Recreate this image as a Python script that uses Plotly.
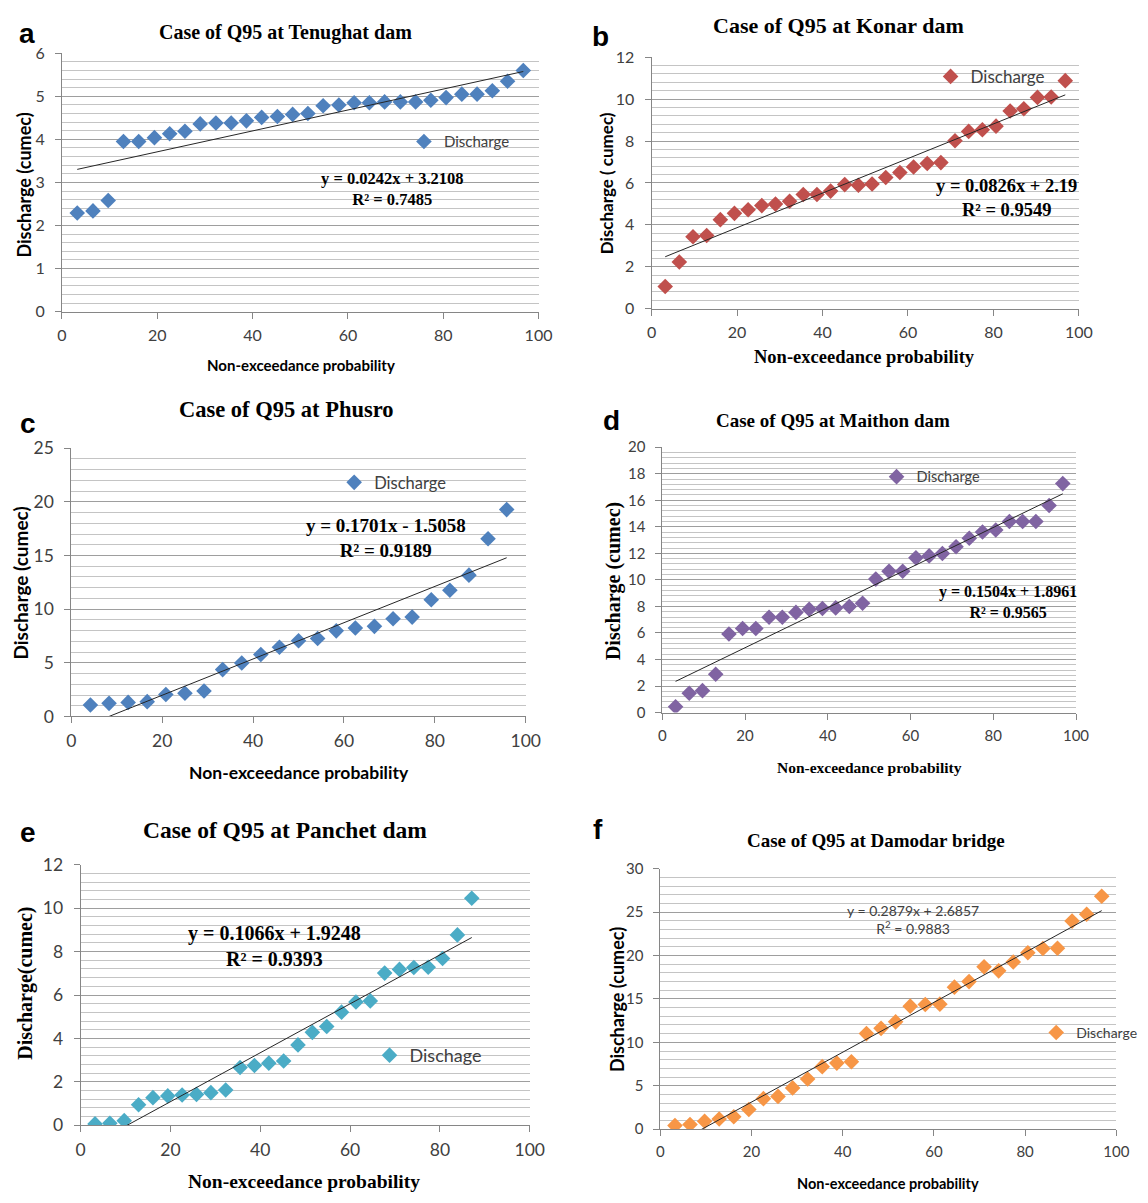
import numpy as np
import plotly.graph_objects as go

W, H = 1148, 1203
SANS = "Lato"
SERIF = "Liberation Serif"
LETTER = "Liberation Sans"

# ---------------- data ----------------
prob_30 = [3.2, 6.5, 9.7, 12.9, 16.1, 19.4, 22.6, 25.8, 29.0, 32.3,
           35.5, 38.7, 41.9, 45.2, 48.4, 51.6, 54.8, 58.1, 61.3, 64.5,
           67.7, 71.0, 74.2, 77.4, 80.6, 83.9, 87.1, 90.3, 93.5, 96.8]
prob_23 = [4.2, 8.3, 12.5, 16.7, 20.8, 25.0, 29.2, 33.3, 37.5, 41.7,
           45.8, 50.0, 54.2, 58.3, 62.5, 66.7, 70.8, 75.0, 79.2, 83.3,
           87.5, 91.7, 95.8]
prob_27 = [3.2, 6.5, 9.7, 12.9, 16.1, 19.4, 22.6, 25.8, 29.0, 32.3,
           35.5, 38.7, 41.9, 45.2, 48.4, 51.6, 54.8, 58.1, 61.3, 64.5,
           67.7, 71.0, 74.2, 77.4, 80.6, 83.9, 87.1]

q_tenughat = [2.29, 2.34, 2.58, 3.95, 3.95, 4.04, 4.13, 4.19, 4.36, 4.38,
              4.38, 4.43, 4.51, 4.53, 4.58, 4.60, 4.78, 4.80, 4.85, 4.85,
              4.87, 4.87, 4.87, 4.91, 4.97, 5.05, 5.05, 5.13, 5.35, 5.60]
q_konar = [1.06, 2.23, 3.43, 3.49, 4.25, 4.55, 4.72, 4.92, 4.99, 5.13,
           5.45, 5.45, 5.61, 5.92, 5.89, 5.95, 6.26, 6.50, 6.76, 6.93,
           6.97, 8.01, 8.46, 8.54, 8.71, 9.43, 9.54, 10.08, 10.10, 10.88]
q_phusro = [1.07, 1.22, 1.31, 1.38, 2.05, 2.17, 2.38, 4.37, 4.98, 5.78,
            6.45, 7.06, 7.27, 7.98, 8.25, 8.40, 9.11, 9.26, 10.88, 11.77,
            13.17, 16.56, 19.28]
q_maithon = [0.44, 1.45, 1.65, 2.89, 5.92, 6.34, 6.34, 7.18, 7.18, 7.55,
             7.79, 7.84, 7.89, 7.99, 8.24, 10.06, 10.65, 10.65, 11.66, 11.81,
             11.99, 12.50, 13.14, 13.61, 13.76, 14.40, 14.40, 14.40, 15.61, 17.26]
q_panchet = [0.06, 0.09, 0.21, 0.94, 1.27, 1.35, 1.39, 1.42, 1.50, 1.62,
             2.66, 2.75, 2.86, 2.96, 3.70, 4.28, 4.55, 5.21, 5.68, 5.73,
             7.01, 7.18, 7.27, 7.28, 7.68, 8.77, 10.46]
q_damodar = [0.41, 0.53, 0.90, 1.17, 1.43, 2.26, 3.51, 3.77, 4.75, 5.77,
             7.20, 7.61, 7.76, 11.01, 11.61, 12.36, 14.17, 14.36, 14.40, 16.36,
             17.00, 18.70, 18.24, 19.26, 20.32, 20.81, 20.84, 23.97, 24.76, 26.84]

titles = ["Case of Q95 at Tenughat dam", "Case of Q95 at Konar dam",
          "Case of Q95 at Phusro", "Case of Q95 at Maithon dam",
          "Case of Q95 at Panchet dam", "Case of Q95 at Damodar bridge"]
letters = ["a", "b", "c", "d", "e", "f"]
y_titles = ["Discharge (cumec)", "Discharge ( cumec)", "Discharge (cumec)",
            "Discharge (cumec)", "Discharge(cumec)", "Discharge (cumec)"]
x_title = "Non-exceedance probability"
legend_names = ["Discharge", "Discharge", "Discharge", "Discharge", "Dischage", "Discharge"]
equations = ["y = 0.0242x + 3.2108<br>R² = 0.7485",
             "y = 0.0826x + 2.19<br>R² = 0.9549",
             "y = 0.1701x - 1.5058<br>R² = 0.9189",
             "y = 0.1504x + 1.8961<br>R² = 0.9565",
             "y = 0.1066x + 1.9248<br>R² = 0.9393",
             "y = 0.2879x + 2.6857<br>R<sup>2</sup> = 0.9883"]
y_max = [6, 12, 25, 20, 12, 30]
y_major = [1, 2, 5, 2, 2, 5]
y_minor = [0.2, 0.4, 1, 0.4, 0.4, 1]
x_ticks = [0, 20, 40, 60, 80, 100]

series_x = [prob_30, prob_30, prob_23, prob_30, prob_27, prob_30]
series_y = [q_tenughat, q_konar, q_phusro, q_maithon, q_panchet, q_damodar]
colors = ["#4F81BD", "#C0504D", "#4F81BD", "#8064A2", "#4BACC6", "#F79646"]

# ---------------- layout specs (pixels) ----------------
P = [
    dict(dom=(58, 543, 43, 306), title=(285, 22, SERIF, 20), letter=(22.5, 23),
         ytit=(19, 177, SANS, 18), xtit=(301, 360, SANS, 15),
         eq=(394, 181, SERIF, 16.5, True), leg=(430, 133, 15), tick=16),
    dict(dom=(658, 1093, 47, 303), title=(848, 15, SERIF, 22), letter=(606, 26),
         ytit=(613, 175, SANS, 17), xtit=(875, 352, SERIF, 18.5),
         eq=(1019, 190, SERIF, 18.5, True), leg=(966, 67, 17), tick=16),
    dict(dom=(67.5, 530, 445, 718), title=(286, 406, SERIF, 22.5), letter=(23.6, 420),
         ytit=(16, 582, SANS, 19), xtit=(299, 775, SANS, 17.5),
         eq=(388, 536, SERIF, 19, True), leg=(359, 480, 16.5), tick=17.5),
    dict(dom=(669, 1090, 444, 714), title=(843, 417, SERIF, 19), letter=(617, 417),
         ytit=(620, 580, SERIF, 20), xtit=(880, 770, SERIF, 15.5),
         eq=(1021, 602, SERIF, 16, True), leg=(911, 474, 14.5), tick=15),
    dict(dom=(77, 534, 869, 1134), title=(285, 834, SERIF, 23.5), letter=(23.6, 836),
         ytit=(21.4, 990, SERIF, 20), xtit=(304, 1191, SERIF, 19.5),
         eq=(274, 952, SERIF, 20, True), leg=(395, 1063, 18), tick=17.5),
    dict(dom=(667, 1131, 873, 1138), title=(886.5, 844, SERIF, 19), letter=(604, 833),
         ytit=(623.5, 1006, SANS, 18), xtit=(898.5, 1193, SANS, 14.5),
         eq=(924.5, 925, SANS, 14, False), leg=(1073.5, 1040, 14), tick=15),
]


def fx(px):
    return px / W


def fy(py):
    return 1 - py / H


fig = go.Figure()
annotations = []
layout = dict(width=W, height=H, margin=dict(l=0, r=0, t=0, b=0),
              paper_bgcolor="white", plot_bgcolor="white", showlegend=True)

for i in range(6):
    s = P[i]
    sfx = "" if i == 0 else str(i + 1)
    xa, ya = "x" + sfx, "y" + sfx
    leg = "legend" + sfx
    x0, x1, y0, y1 = s["dom"]
    xs = np.array(series_x[i], dtype=float)
    ys = np.array(series_y[i], dtype=float)

    fig.add_trace(go.Scatter(x=xs, y=ys, mode="markers", name=legend_names[i],
                             marker=dict(symbol="diamond", size=12, color=colors[i]),
                             xaxis=xa, yaxis=ya, legend=leg, showlegend=True))
    slope, icpt = np.polyfit(xs, ys, 1)
    xl = np.array([xs.min(), xs.max()])
    fig.add_trace(go.Scatter(x=xl, y=slope * xl + icpt, mode="lines",
                             line=dict(color="#262626", width=1),
                             xaxis=xa, yaxis=ya, showlegend=False, hoverinfo="skip"))

    layout["xaxis" + sfx] = dict(
        domain=[fx(x0), fx(x1)], anchor=ya, range=[0, 100], tickvals=x_ticks,
        showgrid=False, zeroline=False, showline=True, linecolor="#868686", linewidth=1,
        ticks="outside", ticklen=6, tickcolor="#868686", ticklabelstandoff=3,
        tickfont=dict(family=SANS, size=s["tick"], color="#404040"), fixedrange=True)
    layout["yaxis" + sfx] = dict(
        domain=[fy(y1), fy(y0)], anchor=xa, range=[0, y_max[i]], dtick=y_major[i],
        showgrid=True, gridcolor="#9e9e9e", gridwidth=1.2, zeroline=False,
        showline=True, linecolor="#868686", linewidth=1,
        ticks="outside", ticklen=6, tickcolor="#868686", ticklabelstandoff=7,
        tickfont=dict(family=SANS, size=s["tick"], color="#404040"),
        minor=dict(dtick=y_minor[i], showgrid=True, gridcolor="#c4c4c4", gridwidth=1, ticks=""),
        fixedrange=True)

    lx, ly, lsz = s["leg"]
    layout[leg] = dict(x=fx(lx - 24), y=fy(ly), xanchor="left", yanchor="middle",
                       bgcolor="rgba(0,0,0,0)", borderwidth=0,
                       font=dict(family=SANS, size=lsz, color="#404040"))

    tx, ty, tfam, tsz = s["title"]
    annotations.append(dict(x=fx(tx), y=fy(ty), xref="paper", yref="paper",
                            text="<b>" + titles[i] + "</b>", showarrow=False,
                            font=dict(family=tfam, size=tsz, color="#000000"),
                            xanchor="center", yanchor="middle"))
    ax_, ay_ = s["letter"]
    annotations.append(dict(x=fx(ax_), y=fy(ay_), xref="paper", yref="paper",
                            text="<b>" + letters[i] + "</b>", showarrow=False,
                            font=dict(family=LETTER, size=28, color="#000000"),
                            xanchor="center", yanchor="middle"))
    yx, yy, yfam, ysz = s["ytit"]
    annotations.append(dict(x=fx(yx), y=fy(yy), xref="paper", yref="paper",
                            text="<b>" + y_titles[i] + "</b>", showarrow=False, textangle=-90,
                            font=dict(family=yfam, size=ysz, color="#000000"),
                            xanchor="center", yanchor="middle"))
    xx, xy, xfam, xsz = s["xtit"]
    annotations.append(dict(x=fx(xx), y=fy(xy), xref="paper", yref="paper",
                            text="<b>" + x_title + "</b>", showarrow=False,
                            font=dict(family=xfam, size=xsz, color="#000000"),
                            xanchor="center", yanchor="middle"))
    ex, ey, efam, esz, ebold = s["eq"]
    etxt = equations[i].replace("<br>", "</b><br><b>") if ebold else equations[i]
    if ebold:
        etxt = "<b>" + etxt + "</b>"
    annotations.append(dict(x=fx(ex), y=fy(ey), xref="paper", yref="paper",
                            text=etxt, showarrow=False, align="center",
                            font=dict(family=efam, size=esz,
                                      color="#000000" if ebold else "#404040"),
                            xanchor="center", yanchor="middle"))

layout["annotations"] = annotations
fig.update_layout(**layout)
fig.write_html("out.html")
